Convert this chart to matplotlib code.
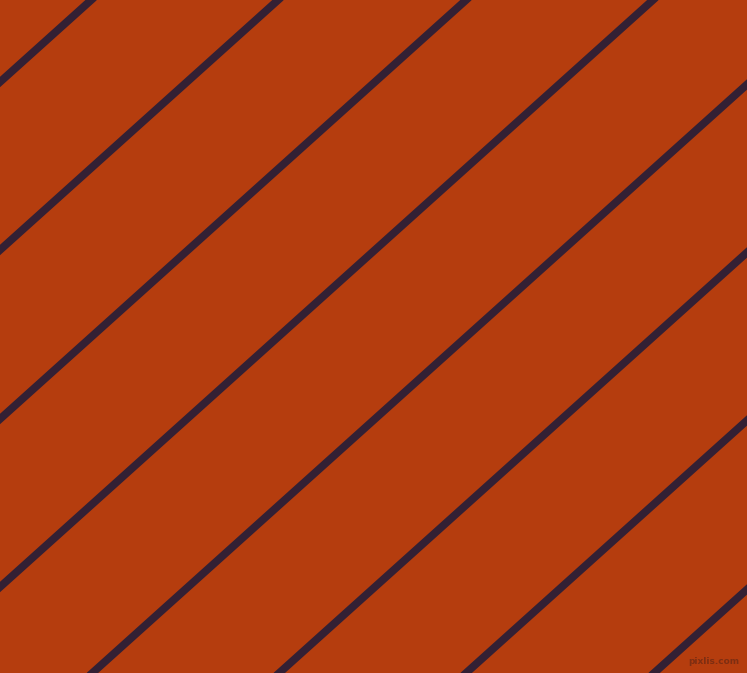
import matplotlib
matplotlib.use('Agg')
import matplotlib.pyplot as plt

# diagonal stripes: where each line meets the left edge (pixels from top)
left_hits = [82, 250, 419, 587, 756, 924, 1092, 1261]
slope = 0.899  # drop in y per pixel in x
bg_color = '#B53D0E'
line_color = '#332034'

fig = plt.figure(figsize=(7.47, 6.73), dpi=100)
ax = fig.add_axes([0, 0, 1, 1])
ax.set_facecolor(bg_color)
fig.patch.set_facecolor(bg_color)

for c in left_hits:
    ax.axline((0, c), slope=-slope, color=line_color, lw=5.6)

ax.set_xlim(0, 747)
ax.set_ylim(673, 0)
ax.axis('off')

ax.text(739, 662, 'pixlis.com', fontsize=6.5, fontweight='bold', color='#7E2E12',
        ha='right', va='center')

fig.savefig('out.png', dpi=100, facecolor=bg_color)
